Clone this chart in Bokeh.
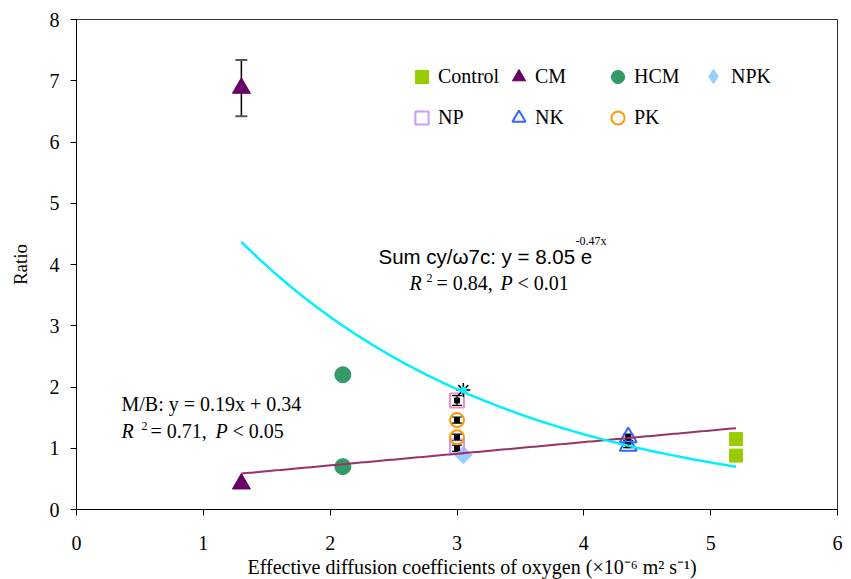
import numpy as np
from bokeh.plotting import figure
from bokeh.models import (Range1d, Legend, LegendItem, Label, Whisker, ColumnDataSource,
                          TeeHead, FixedTicker, Title)
from bokeh.embed import file_html
from bokeh.resources import INLINE

# ---------------- data ----------------
control_x = [5.2, 5.2]
control_y = [1.15, 0.88]
cm_x = [1.3, 1.3]
cm_y = [6.88, 0.42]
cm_err_x = [1.3]
cm_err_y = [6.88]
cm_err = [0.46]
hcm_x = [2.1, 2.1]
hcm_y = [2.2, 0.7]
npk_x = [3.05]
npk_y = [0.89]
np_x = [3.0, 3.0]
np_y = [1.03, 1.78]
nk_x = [4.35, 4.35]
nk_y = [1.18, 1.04]
pk_x = [3.0, 3.0]
pk_y = [1.46, 1.18]
sd_x = [3.0, 3.0, 3.0, 3.0, 4.35, 4.35]
sd_y = [1.78, 1.46, 1.18, 1.0, 1.18, 1.05]
sd_err = [0.08, 0.05, 0.05, 0.05, 0.05, 0.04]
star_x = [3.05]
star_y = [1.95]
fit_x_range = [1.3, 5.2]
mb_slope, mb_intercept = 0.19, 0.34
cy_a, cy_b = 8.05, -0.47
x_ticks = [0, 1, 2, 3, 4, 5, 6]
y_ticks = [0, 1, 2, 3, 4, 5, 6, 7, 8]
x_title = "Effective diffusion coefficients of oxygen (\u00d710\u207b\u2076 m\u00b2 s\u207b\u00b9)"
y_title = "Ratio"

SERIF = "Liberation Serif, Times New Roman, serif"
SANS = "Liberation Sans, Arial, sans-serif"

# ---------------- figure ----------------
p = figure(width=851, height=579, x_range=Range1d(0, 6), y_range=Range1d(0, 8),
           output_backend="svg", toolbar_location=None,
           min_border_left=76, min_border_right=14, min_border_top=19, min_border_bottom=70)
p.background_fill_color = "white"
p.border_fill_color = "white"
p.xgrid.visible = False
p.ygrid.visible = False
p.outline_line_color = "#333333"
p.outline_line_width = 1

for ax, ticks in ((p.xaxis, x_ticks), (p.yaxis, y_ticks)):
    ax.ticker = FixedTicker(ticks=ticks)
    ax.minor_tick_line_color = None
    ax.major_tick_out = 6
    ax.major_tick_in = 0
    ax.major_tick_line_color = "black"
    ax.axis_line_color = "black"
    ax.major_label_text_color = "black"
    ax.major_label_text_font = SERIF
    ax.major_label_text_font_size = "20px"
    ax.axis_label_text_font = SERIF
    ax.axis_label_text_font_style = "normal"
    ax.axis_label_text_color = "black"
p.xaxis.major_label_standoff = 20
p.yaxis.major_label_standoff = 11
p.yaxis.axis_label = y_title
p.yaxis.axis_label_text_font_size = "19px"
p.yaxis.axis_label_standoff = 16

p.add_layout(Title(text=x_title, align="left", offset=171, standoff=2,
                   text_font=SERIF, text_font_size="20px", text_font_style="normal",
                   text_color="black"), "below")

# ---------------- markers ----------------
r_control = p.scatter(control_x, control_y, marker="square", size=13,
                      fill_color="#99CC00", line_color="#99CC00")
r_cm = p.scatter(cm_x, cm_y, marker="triangle", size=18,
                 fill_color="#660066", line_color="#660066")
r_hcm = p.scatter(hcm_x, hcm_y, marker="circle", size=16,
                  fill_color="#339966", line_color="#339966")
r_npk_leg = p.scatter(npk_x, npk_y, marker="diamond", size=16,
                      fill_color="#99CCFF", line_color="#99CCFF")
r_npk = p.scatter(npk_x, npk_y, marker="square", angle=np.pi / 4, size=12.5,
                  fill_color="#99CCFF", line_color="#99CCFF")
r_np = p.scatter(np_x, np_y, marker="square", size=14, fill_color=None,
                 line_color=["#CC99FF", "#F08CC8"], line_width=2)
r_nk = p.scatter(nk_x, nk_y, marker="triangle", size=17, fill_color=None,
                 line_color="#3366FF", line_width=2)
r_pk = p.scatter(pk_x, pk_y, marker="circle", size=14, fill_color=None,
                 line_color="#FF9900", line_width=2)

# error bars
cm_src = ColumnDataSource(dict(base=cm_err_x,
                               lower=[y - e for y, e in zip(cm_err_y, cm_err)],
                               upper=[y + e for y, e in zip(cm_err_y, cm_err)]))
p.add_layout(Whisker(source=cm_src, base="base", lower="lower", upper="upper",
                     line_color="black", line_width=1.5,
                     upper_head=TeeHead(size=12, line_color="#555555", line_width=2),
                     lower_head=TeeHead(size=12, line_color="#555555", line_width=2)))

sd_src = ColumnDataSource(dict(base=sd_x,
                               lower=[y - e for y, e in zip(sd_y, sd_err)],
                               upper=[y + e for y, e in zip(sd_y, sd_err)]))
p.add_layout(Whisker(source=sd_src, base="base", lower="lower", upper="upper",
                     line_color="black", line_width=1.2,
                     upper_head=TeeHead(size=10, line_color="black", line_width=1.2),
                     lower_head=TeeHead(size=10, line_color="black", line_width=1.2)))
p.scatter(sd_x, sd_y, marker="square", size=5, fill_color="black", line_color="black")
p.scatter(star_x, star_y, marker="asterisk", size=14, line_color="black", line_width=1.5)
p.scatter(star_x, star_y, marker="circle", size=6, fill_color="#00F0FF", line_color="#00F0FF")

# ---------------- fitted lines (equations shown on the chart) ----------------
fx = np.linspace(fit_x_range[0], fit_x_range[1], 200)
p.line(fx, mb_slope * fx + mb_intercept, line_color="#993366", line_width=2)
p.line(fx, cy_a * np.exp(cy_b * fx), line_color="#00F0FF", line_width=2.5)

# ---------------- legend (4 columns x 2 rows) ----------------
def add_legend(items, vx, vy, glyph=33):
    lg = Legend(items=[LegendItem(label=t, renderers=[r]) for t, r in items],
                location=(vx, vy), orientation="vertical",
                glyph_width=glyph, glyph_height=glyph, label_standoff=0, spacing=41 - glyph,
                padding=0, margin=0, border_line_color=None, background_fill_alpha=0,
                label_text_font=SERIF, label_text_font_size="20px", label_height=20,
                label_text_color="black")
    p.add_layout(lg, "center")

add_legend([("Control", r_control), ("NP", r_np)], 329, 375)
add_legend([("CM", r_cm), ("NK", r_nk)], 426, 375)
add_legend([("HCM", r_hcm), ("PK", r_pk)], 525, 375)
add_legend([("NPK", r_npk_leg)], 619, 415, glyph=36)

# ---------------- text annotations ----------------
X0, X1, Y0, Y1 = 76.0, 837.0, 509.0, 19.0

def dx(px):
    return (px - X0) / (X1 - X0) * 6.0

def dy(py):
    return (Y0 - py) / (Y0 - Y1) * 8.0

def lab(text, px, py, size="20px", font=SERIF, style="normal"):
    p.add_layout(Label(x=dx(px), y=dy(py), text=text, text_font=font,
                       text_font_size=size, text_font_style=style,
                       text_align="left", text_baseline="alphabetic", text_color="black"))

# exponential fit
lab("Sum cy/\u03c97c: y = 8.05 e", 378, 256, size="20.5px", font=SANS)
lab("-0.47x", 575, 240, size="12px")
lab("R", 409, 282, style="italic")
lab("2", 426, 277, size="12px")
lab("= 0.84,", 436, 282)
lab("P", 500, 282, style="italic")
lab("< 0.01", 517, 282)

# linear fit
lab("M/B: y = 0.19x + 0.34", 121, 403)
lab("R", 121, 430, style="italic")
lab("2", 141, 425, size="12px")
lab("= 0.71,", 150, 430)
lab("P", 215, 430, style="italic")
lab("< 0.05", 232, 430)

open("out.html", "w").write(file_html(p, INLINE))
